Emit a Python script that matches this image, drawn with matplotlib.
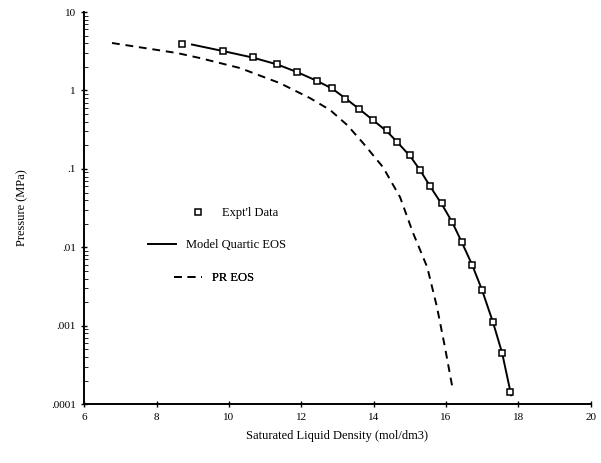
import matplotlib
matplotlib.use("Agg")
import matplotlib.pyplot as plt
from matplotlib.ticker import FixedLocator, FixedFormatter, LogLocator, NullFormatter
from matplotlib.lines import Line2D

# experimental saturated liquid density vs pressure
expt_rho = [8.71, 9.84, 10.67, 11.33, 11.88, 12.44, 12.85, 13.21, 13.60, 13.98, 14.37, 14.65,
            15.01, 15.28, 15.56, 15.89, 16.17, 16.44, 16.72, 16.99, 17.30, 17.55, 17.77]
expt_p = [3.91, 3.18, 2.67, 2.17, 1.72, 1.32, 1.07, 0.776, 0.579, 0.419, 0.313, 0.220,
          0.150, 0.0966, 0.0604, 0.0366, 0.0210, 0.0116, 0.00593, 0.00284, 0.00111, 0.000448, 0.000142]

# model quartic EOS
model_rho = [8.98, 9.84, 10.67, 11.33, 11.88, 12.44, 12.85, 13.21, 13.60, 13.98, 14.37, 14.65,
             15.01, 15.28, 15.56, 15.89, 16.17, 16.44, 16.72, 16.99, 17.30, 17.55, 17.80]
model_p = [3.85, 3.18, 2.62, 2.15, 1.72, 1.32, 1.06, 0.80, 0.58, 0.42, 0.30, 0.22,
           0.145, 0.097, 0.060, 0.035, 0.021, 0.0115, 0.0060, 0.0029, 0.0011, 0.00045, 0.00013]

# PR EOS
pr_rho = [6.77, 8.57, 9.20, 10.31, 11.41, 12.24, 12.80, 13.27, 13.71, 14.26, 14.73, 15.09,
          15.48, 15.75, 15.97, 16.19]
pr_p = [4.03, 3.00, 2.59, 1.93, 1.24, 0.80, 0.562, 0.362, 0.213, 0.105, 0.0436, 0.0152,
        0.00559, 0.00173, 0.000533, 0.000151]

yticks = [1e-4, 1e-3, 1e-2, 1e-1, 1, 10]
ytick_labels = [".0001", ".001", ".01", ".1", "1", "10"]
xticks = [6, 8, 10, 12, 14, 16, 18, 20]

plt.rcParams['font.family'] = ['Liberation Serif', 'DejaVu Serif']

fig = plt.figure(figsize=(6.01, 4.63), dpi=100)
ax = fig.add_axes([0.140, 0.127, 0.843, 0.847])

ax.plot(model_rho, model_p, color='black', lw=1.4)
ax.plot(pr_rho, pr_p, color='black', lw=1.4, dashes=(4, 3))
ax.plot(expt_rho, expt_p, ls='none', marker='s', ms=4.5, mfc='white', mec='black', mew=1.1)

ax.set_yscale('log')
ax.set_xlim(6, 20)
ax.set_ylim(1e-4, 10)
ax.yaxis.set_major_locator(FixedLocator(yticks))
ax.yaxis.set_major_formatter(FixedFormatter(ytick_labels))
ax.yaxis.set_minor_locator(LogLocator(base=10, subs=range(2, 10)))
ax.yaxis.set_minor_formatter(NullFormatter())
ax.set_xticks(xticks)
ax.tick_params(axis='both', labelsize=8, direction='inout', length=5, width=1)
ax.tick_params(axis='y', which='minor', direction='in', length=3)

ax.spines['top'].set_visible(False)
ax.spines['right'].set_visible(False)
ax.spines['left'].set_linewidth(1.4)
ax.spines['bottom'].set_linewidth(1.4)

ax.set_xlabel("Saturated Liquid Density (mol/dm3)", fontsize=9, labelpad=6)
ax.set_ylabel("Pressure (MPa)", fontsize=9, labelpad=16)

# legend entries, one per row, centred like the original
items = [
    (Line2D([], [], ls='none', marker='s', ms=4.5, mfc='white', mec='black', mew=1.1), "Expt'l Data", 0.290, 0.487),
    (Line2D([], [], color='black', lw=1.4), "Model Quartic EOS", 0.262, 0.406),
    (Line2D([], [], color='black', lw=1.4, dashes=(4, 3)), "PR EOS", 0.256, 0.321),
]
for handle, label, cx, cy in items:
    leg = ax.legend([handle], [label], loc='center', bbox_to_anchor=(cx, cy),
                    frameon=False, fontsize=9, handlelength=2.2, handletextpad=0.8)
    ax.add_artist(leg)

fig.savefig('out.png', dpi=100)
